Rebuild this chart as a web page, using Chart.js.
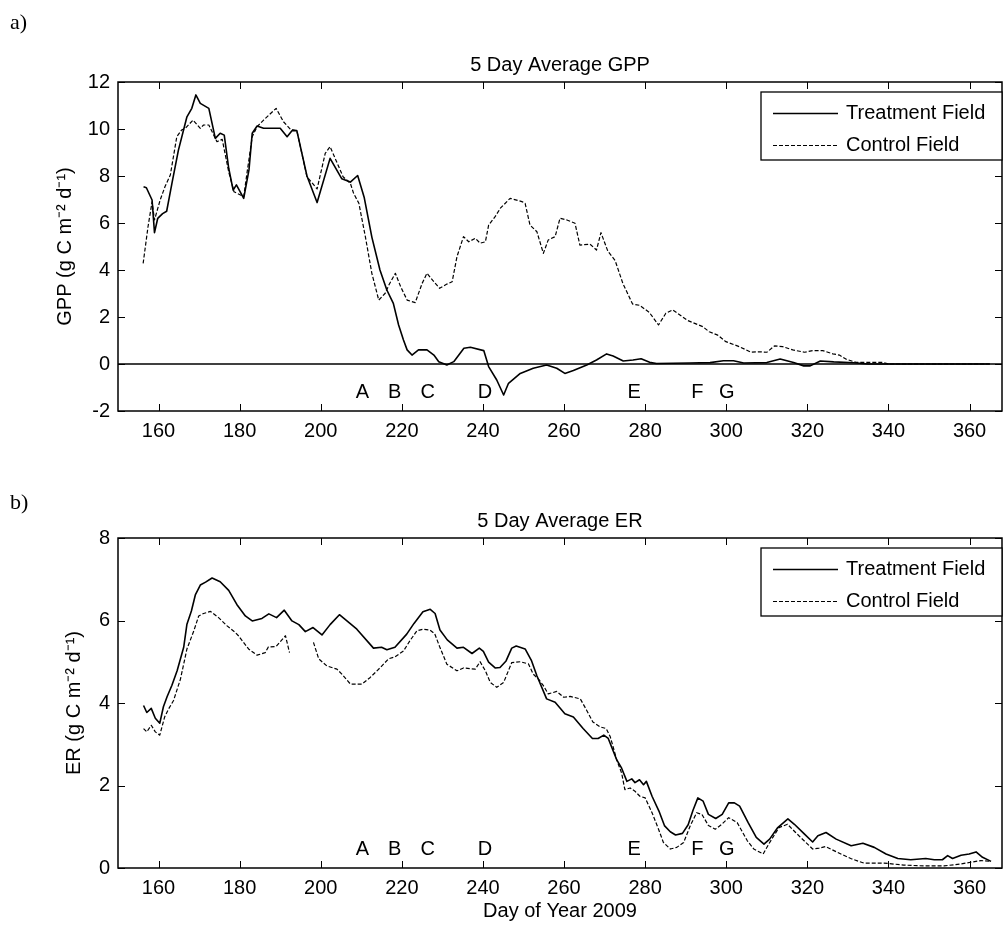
<!DOCTYPE html>
<html>
<head>
<meta charset="utf-8">
<script src="https://cdn.jsdelivr.net/npm/chart.js@4.4.1/dist/chart.umd.min.js"></script>
<style>
    html, body { margin: 0; padding: 0; background: #fff; }
    #wrap { position: relative; width: 1003px; height: 928px; }
    canvas { position: absolute; left: 0; }
    #gpp { top: 0; }
    #er { top: 464px; }
</style>
</head>
<body>
<div id="wrap">
    <canvas id="gpp" width="1003" height="464"></canvas>
    <canvas id="er" width="1003" height="464"></canvas>
</div>
<script>
// Day-of-year range and ticks shared by both panels
const dayMin = 150;
const dayMax = 368;
const dayTicks = [160, 180, 200, 220, 240, 260, 280, 300, 320, 340, 360];

// Event letters marked under the curves
const eventLetters = ["A", "B", "C", "D", "E", "F", "G"];
const eventDays = [210.3, 218.2, 226.4, 240.5, 277.3, 292.9, 300.1];

// a) 5 day average GPP
const gppTreatDays = [156.3, 157.0, 158.4, 159.0, 159.8, 161.0, 162.0, 163.3, 164.9, 167.0, 168.2, 169.2, 170.3, 172.4, 174.0, 175.2, 176.2, 177.3, 178.4, 179.2, 181.0, 182.3, 183.1, 184.3, 185.9, 190.0, 191.7, 192.9, 194.1, 196.6, 199.1, 202.3, 205.2, 207.3, 209.1, 210.7, 212.6, 214.6, 216.3, 217.9, 219.2, 220.4, 221.3, 222.5, 224.1, 226.2, 227.9, 229.1, 231.1, 232.8, 235.3, 236.9, 240.2, 241.4, 243.4, 245.1, 246.3, 249.2, 252.4, 255.7, 258.2, 260.2, 262.3, 265.6, 268.0, 270.5, 272.1, 274.6, 277.0, 279.0, 281.1, 282.8, 291.0, 296.0, 299.3, 301.8, 304.3, 310.0, 313.3, 316.6, 319.1, 320.7, 323.2, 326.5, 331.4, 335.0, 365.0];
const gppTreatVals = [7.54, 7.5, 6.98, 5.59, 6.2, 6.4, 6.5, 7.69, 9.1, 10.52, 10.88, 11.45, 11.09, 10.88, 9.6, 9.82, 9.74, 8.33, 7.4, 7.62, 7.05, 8.26, 9.82, 10.13, 10.03, 10.03, 9.67, 9.93, 9.93, 8.0, 6.87, 8.75, 7.88, 7.74, 8.02, 7.1, 5.4, 4.0, 3.15, 2.58, 1.66, 1.02, 0.6, 0.38, 0.6, 0.6, 0.38, 0.1, -0.04, 0.1, 0.67, 0.71, 0.57, -0.11, -0.68, -1.32, -0.82, -0.4, -0.18, -0.04, -0.18, -0.4, -0.28, -0.04, 0.17, 0.43, 0.34, 0.13, 0.17, 0.22, 0.07, 0.02, 0.04, 0.06, 0.14, 0.14, 0.04, 0.06, 0.21, 0.06, -0.08, -0.08, 0.13, 0.09, 0.05, 0, 0];
const gppCtrlDays = [156.2, 157.4, 158.4, 159.0, 160.4, 161.6, 162.9, 164.5, 165.7, 166.6, 168.5, 170.3, 171.1, 172.4, 174.4, 175.7, 177.3, 178.6, 181.0, 181.8, 183.1, 184.3, 185.9, 189.0, 190.8, 192.5, 194.1, 196.6, 199.1, 201.1, 202.3, 205.5, 207.3, 208.1, 209.4, 211.0, 212.6, 214.3, 215.9, 216.8, 218.4, 219.7, 221.3, 223.3, 225.0, 226.2, 227.9, 229.3, 231.1, 232.4, 233.6, 235.2, 236.5, 238.1, 239.3, 240.6, 241.4, 243.0, 244.3, 246.7, 249.6, 250.4, 251.6, 253.3, 254.9, 256.1, 257.8, 259.0, 260.7, 262.7, 263.9, 266.4, 268.0, 269.1, 270.8, 272.6, 274.5, 276.9, 278.6, 281.0, 283.3, 285.1, 286.8, 290.5, 294.2, 295.8, 297.9, 299.9, 303.2, 306.1, 308.1, 310.0, 311.9, 313.9, 316.4, 319.3, 321.3, 323.8, 326.3, 327.9, 329.6, 332.0, 338.6, 340.0, 365.0];
const gppCtrlVals = [4.28, 5.84, 6.9, 6.13, 6.98, 7.55, 8.04, 9.67, 9.96, 10.03, 10.38, 10.03, 10.17, 10.17, 9.46, 9.56, 8.18, 7.33, 7.12, 8.11, 9.67, 10.1, 10.38, 10.88, 10.31, 9.99, 9.93, 7.97, 7.45, 8.96, 9.25, 7.97, 7.69, 7.26, 6.84, 5.42, 3.86, 2.72, 3.01, 3.36, 3.86, 3.29, 2.72, 2.61, 3.43, 3.86, 3.5, 3.22, 3.4, 3.5, 4.57, 5.42, 5.2, 5.35, 5.14, 5.2, 5.91, 6.27, 6.63, 7.05, 6.91, 6.84, 5.91, 5.63, 4.71, 5.28, 5.42, 6.2, 6.13, 5.99, 5.06, 5.1, 4.85, 5.59, 4.8, 4.4, 3.43, 2.55, 2.5, 2.2, 1.66, 2.16, 2.3, 1.85, 1.59, 1.37, 1.23, 0.95, 0.74, 0.5, 0.52, 0.5, 0.77, 0.74, 0.6, 0.5, 0.57, 0.57, 0.43, 0.38, 0.2, 0.07, 0.07, 0, 0];

// b) 5 day average ER (null = gap in the control record)
const erTreatDays = [156.3, 157.1, 158.2, 159.2, 160.3, 161.2, 162.1, 163.3, 164.6, 166.2, 167.0, 168.1, 169.1, 170.3, 171.6, 173.2, 175.2, 177.3, 179.3, 181.4, 183.1, 185.5, 187.2, 189.1, 191.0, 192.9, 194.6, 196.2, 198.1, 200.3, 202.3, 204.6, 207.2, 208.9, 213.0, 215.0, 216.3, 218.3, 221.2, 223.0, 225.2, 227.0, 228.2, 229.4, 231.2, 233.6, 235.2, 237.3, 239.1, 240.1, 241.4, 243.0, 244.2, 245.7, 247.1, 248.2, 250.4, 252.0, 253.3, 255.7, 257.8, 260.2, 262.3, 264.7, 267.0, 268.4, 269.8, 270.9, 273.0, 274.2, 275.5, 276.7, 277.5, 278.6, 279.6, 280.3, 281.7, 283.4, 284.8, 286.2, 287.5, 289.2, 290.6, 291.8, 293.0, 294.3, 295.6, 297.4, 299.0, 300.6, 302.0, 303.3, 305.4, 307.4, 309.3, 310.7, 312.7, 315.2, 316.8, 319.3, 321.3, 322.6, 324.6, 327.1, 330.8, 333.7, 336.5, 339.4, 342.3, 345.5, 349.2, 351.3, 353.3, 354.6, 355.8, 357.9, 359.9, 361.6, 363.2, 365.3];
const erTreatVals = [3.94, 3.77, 3.87, 3.63, 3.51, 3.91, 4.15, 4.43, 4.79, 5.35, 5.91, 6.23, 6.63, 6.86, 6.93, 7.03, 6.94, 6.73, 6.39, 6.11, 5.99, 6.05, 6.16, 6.07, 6.25, 5.99, 5.9, 5.73, 5.83, 5.65, 5.9, 6.14, 5.93, 5.79, 5.33, 5.35, 5.29, 5.35, 5.67, 5.93, 6.21, 6.27, 6.17, 5.77, 5.53, 5.33, 5.35, 5.2, 5.33, 5.25, 4.99, 4.85, 4.86, 5.02, 5.33, 5.38, 5.31, 5.02, 4.66, 4.1, 4.02, 3.74, 3.66, 3.38, 3.14, 3.14, 3.22, 3.14, 2.62, 2.42, 2.1, 2.16, 2.07, 2.14, 2.02, 2.1, 1.74, 1.38, 1.02, 0.88, 0.8, 0.84, 1.05, 1.4, 1.7, 1.62, 1.3, 1.2, 1.3, 1.58, 1.58, 1.5, 1.1, 0.74, 0.58, 0.7, 0.98, 1.19, 1.06, 0.82, 0.63, 0.78, 0.86, 0.7, 0.54, 0.6, 0.5, 0.34, 0.23, 0.2, 0.23, 0.2, 0.2, 0.3, 0.23, 0.31, 0.34, 0.39, 0.26, 0.16];
const erCtrlDays = [156.3, 157.1, 158.2, 159.2, 160.3, 161.5, 162.5, 163.7, 165.4, 167.0, 168.7, 169.9, 171.1, 172.8, 174.8, 176.9, 178.9, 179.7, 182.2, 184.3, 186.3, 187.1, 189.0, 191.3, 192.3, 195.0, 198.2, 199.5, 201.5, 204.0, 205.2, 207.3, 210.2, 212.2, 214.7, 216.7, 218.3, 220.4, 222.0, 223.7, 225.3, 226.9, 228.1, 229.3, 231.1, 233.6, 235.2, 238.1, 239.3, 240.6, 241.8, 243.4, 245.1, 247.1, 249.2, 251.2, 252.4, 253.7, 254.9, 256.1, 258.2, 259.9, 261.5, 264.0, 265.6, 267.1, 268.9, 270.4, 271.4, 273.0, 274.2, 275.0, 276.3, 277.5, 278.7, 280.0, 281.7, 283.3, 284.5, 286.2, 287.8, 289.5, 291.1, 292.7, 294.0, 295.6, 297.3, 298.9, 300.6, 302.7, 305.2, 306.8, 309.1, 310.6, 313.0, 315.1, 317.1, 319.2, 321.3, 322.9, 324.5, 327.4, 330.7, 333.9, 338.9, 343.8, 348.7, 353.7, 357.9, 360.3, 362.8, 365.3];
const erCtrlVals = [3.38, 3.3, 3.46, 3.3, 3.22, 3.66, 3.86, 4.06, 4.58, 5.31, 5.75, 6.11, 6.17, 6.22, 6.07, 5.87, 5.71, 5.63, 5.31, 5.16, 5.22, 5.36, 5.37, 5.63, 5.22, null, 5.47, 5.07, 4.9, 4.82, 4.7, 4.46, 4.46, 4.62, 4.86, 5.07, 5.12, 5.26, 5.51, 5.75, 5.79, 5.77, 5.68, 5.37, 4.94, 4.78, 4.85, 4.82, 5.0, 4.78, 4.5, 4.38, 4.5, 4.98, 5.0, 4.95, 4.7, 4.58, 4.42, 4.22, 4.28, 4.14, 4.16, 4.1, 3.82, 3.54, 3.42, 3.38, 3.18, 2.62, 2.3, 1.9, 1.94, 1.86, 1.74, 1.7, 1.34, 0.94, 0.62, 0.46, 0.5, 0.62, 1.02, 1.34, 1.3, 1.03, 0.94, 1.06, 1.22, 1.1, 0.66, 0.46, 0.34, 0.6, 0.98, 1.06, 0.86, 0.66, 0.46, 0.48, 0.52, 0.38, 0.23, 0.12, 0.12, 0.07, 0.05, 0.05, 0.1, 0.14, 0.18, 0.16];

const SANS = '"Liberation Sans", Arial, Helvetica, sans-serif';
const SERIF = '"Liberation Serif", "Times New Roman", serif';
const FONT_SIZE = 20;
const CANVAS_H = 464;

Chart.defaults.font.family = SANS;
Chart.defaults.font.size = FONT_SIZE;
Chart.defaults.color = "#000";

function points(days, vals) {
    return days.map((d, i) => ({ x: d, y: vals[i] }));
}

// MATLAB style box with inward ticks on all four sides
const frameTicks = {
    id: "frameTicks",
    afterDatasetsDraw(chart, args, opts) {
        const { ctx, chartArea: a, scales: { x, y } } = chart;
        const len = opts.length || 7;
        ctx.save();
        ctx.strokeStyle = "#000";
        ctx.lineWidth = 1;
        ctx.beginPath();
        x.ticks.forEach((t) => {
            const px = Math.round(x.getPixelForValue(t.value)) + 0.5;
            ctx.moveTo(px, a.bottom);
            ctx.lineTo(px, a.bottom - len);
            ctx.moveTo(px, a.top);
            ctx.lineTo(px, a.top + len);
        });
        y.ticks.forEach((t) => {
            const py = Math.round(y.getPixelForValue(t.value)) + 0.5;
            ctx.moveTo(a.left, py);
            ctx.lineTo(a.left + len, py);
            ctx.moveTo(a.right, py);
            ctx.lineTo(a.right - len, py);
        });
        ctx.stroke();
        ctx.lineWidth = 1.5;
        ctx.strokeRect(a.left, a.top, a.right - a.left, a.bottom - a.top);
        ctx.restore();
    }
};

// Letters A-G at the event days
const eventMarks = {
    id: "eventMarks",
    afterDatasetsDraw(chart, args, opts) {
        const { ctx, scales: { x, y } } = chart;
        ctx.save();
        ctx.font = FONT_SIZE + "px " + SANS;
        ctx.fillStyle = "#000";
        ctx.textAlign = "center";
        ctx.textBaseline = "middle";
        eventLetters.forEach((letter, i) => {
            ctx.fillText(letter, x.getPixelForValue(eventDays[i]), y.getPixelForValue(opts.y));
        });
        ctx.restore();
    }
};

// Boxed legend in the upper right corner of the plot
const boxLegend = {
    id: "boxLegend",
    afterDraw(chart) {
        const { ctx, chartArea: a } = chart;
        const items = chart.data.datasets.filter((ds) => ds.label);
        const w = 241, h = 68;
        const left = a.right - w, top = a.top + 10;
        ctx.save();
        ctx.fillStyle = "#fff";
        ctx.fillRect(left, top, w, h);
        ctx.strokeStyle = "#000";
        ctx.lineWidth = 1.3;
        ctx.strokeRect(left, top, w, h);
        ctx.font = FONT_SIZE + "px " + SANS;
        ctx.fillStyle = "#000";
        ctx.textBaseline = "middle";
        items.forEach((ds, i) => {
            const cy = Math.round(top + 21 + i * 32) + 0.5;
            ctx.lineWidth = ds.borderWidth;
            ctx.setLineDash(ds.borderDash || []);
            ctx.beginPath();
            ctx.moveTo(left + 12, cy);
            ctx.lineTo(left + 77, cy);
            ctx.stroke();
            ctx.fillText(ds.label, left + 85, cy);
        });
        ctx.restore();
    }
};

// Panel letter and plot title
const panelText = {
    id: "panelText",
    afterDraw(chart, args, opts) {
        const { ctx, chartArea: a } = chart;
        ctx.save();
        ctx.fillStyle = "#000";
        ctx.textBaseline = "middle";
        ctx.font = "22px " + SERIF;
        ctx.textAlign = "left";
        ctx.fillText(opts.panel, 10, opts.panelY);
        ctx.font = FONT_SIZE + "px " + SANS;
        ctx.textAlign = "center";
        ctx.fillText(opts.title, (a.left + a.right) / 2, a.top - 17);
        ctx.restore();
    }
};

function makeChart(canvasId, cfg) {
    return new Chart(document.getElementById(canvasId), {
        type: "line",
        data: { datasets: cfg.datasets },
        plugins: [frameTicks, eventMarks, boxLegend, panelText],
        options: {
            responsive: false,
            animation: false,
            devicePixelRatio: 1,
            events: [],
            layout: { padding: { top: cfg.areaTop, right: 1, left: 0, bottom: 0 } },
            elements: {
                point: { radius: 0 },
                line: { tension: 0, borderColor: "#000", borderJoinStyle: "round" }
            },
            spanGaps: false,
            plugins: {
                legend: { display: false },
                tooltip: { enabled: false },
                title: { display: false },
                eventMarks: { y: cfg.letterY },
                panelText: { panel: cfg.panel, panelY: cfg.panelY, title: cfg.title },
                frameTicks: { length: 7 }
            },
            scales: {
                x: {
                    type: "linear",
                    min: dayMin,
                    max: dayMax,
                    afterBuildTicks: (scale) => {
                        scale.ticks = dayTicks.map((v) => ({ value: v }));
                    },
                    afterFit: (scale) => {
                        scale.height = CANVAS_H - cfg.areaBottom;
                    },
                    grid: { display: false, drawTicks: false },
                    border: { display: false },
                    ticks: { padding: 8, maxRotation: 0, autoSkip: false },
                    title: {
                        display: !!cfg.xLabel,
                        text: cfg.xLabel || "",
                        padding: { top: 0, bottom: 5 }
                    }
                },
                y: {
                    type: "linear",
                    min: cfg.yMin,
                    max: cfg.yMax,
                    afterFit: (scale) => {
                        scale.width = 118;
                    },
                    grid: { display: false, drawTicks: false },
                    border: { display: false },
                    ticks: { stepSize: 2, padding: 8 },
                    title: {
                        display: true,
                        text: cfg.yLabel,
                        padding: { top: cfg.yTitleX - FONT_SIZE * 0.6, bottom: 0 }
                    }
                }
            }
        }
    });
}

makeChart("gpp", {
    title: "5 Day Average GPP",
    panel: "a)",
    panelY: 23,
    yLabel: "GPP (g C m\u207B\u00B2 d\u207B\u00B9)",
    yTitleX: 65,
    yMin: -2,
    yMax: 12,
    areaTop: 82,
    areaBottom: 411,
    letterY: -1.23,
    datasets: [
        { label: "Treatment Field", data: points(gppTreatDays, gppTreatVals), borderColor: "#000", borderWidth: 1.6 },
        { label: "Control Field", data: points(gppCtrlDays, gppCtrlVals), borderColor: "#000", borderWidth: 1.2, borderDash: [4, 2] },
        { label: "", data: [{ x: dayMin, y: 0 }, { x: dayMax, y: 0 }], borderColor: "#000", borderWidth: 1.3 }
    ]
});

makeChart("er", {
    title: "5 Day Average ER",
    panel: "b)",
    panelY: 39,
    yLabel: "ER (g C m\u207B\u00B2 d\u207B\u00B9)",
    yTitleX: 74,
    yMin: 0,
    yMax: 8,
    areaTop: 74,
    areaBottom: 404,
    letterY: 0.45,
    xLabel: "Day of Year 2009",
    datasets: [
        { label: "Treatment Field", data: points(erTreatDays, erTreatVals), borderColor: "#000", borderWidth: 1.6 },
        { label: "Control Field", data: points(erCtrlDays, erCtrlVals), borderColor: "#000", borderWidth: 1.2, borderDash: [4, 2] }
    ]
});
</script>
</body>
</html>
